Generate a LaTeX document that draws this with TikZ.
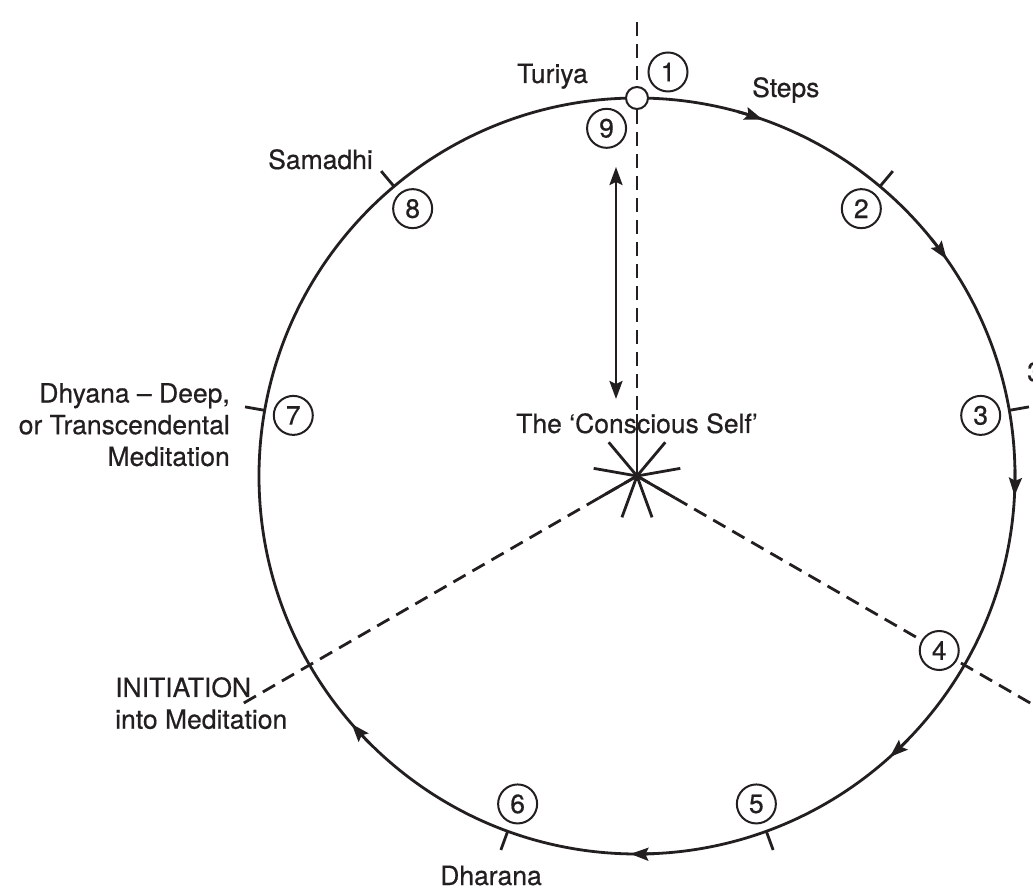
\documentclass[tikz,border=0pt]{standalone}
\usepackage{fontspec}
\setmainfont{TeX Gyre Heros}[FakeBold=0.5]
\usepackage{tikz}
\usetikzlibrary{arrows.meta,calc}
\definecolor{InkDark}{HTML}{231F20}
\tikzset{cyc/.tip={Stealth[length=18pt,width=13pt,inset=3pt]}}

\begin{document}
\begin{tikzpicture}[x=1pt,y=1pt,
          every node/.style={font=\fontsize{26.5}{31.7}\selectfont,
            text=InkDark, inner sep=0pt},
          ink/.style={draw=InkDark, line width=2.8pt},
          rayline/.style={ink, dash pattern=on 14pt off 8pt},
          numnode/.style={circle, draw=InkDark, fill=white, line width=2pt,
            minimum size=39pt},
          ar/.style={draw=InkDark, line width=2.6pt, {cyc}-{cyc}}]
        \useasboundingbox (-637,-414) rectangle (396,476);
        \coordinate (self) at (0,0);
        \coordinate (topend) at (0,461);
        \coordinate (initend) at (210:460);
        \coordinate (fourend) at (330:470);
        \coordinate (uptip) at (-21,309);
        \coordinate (downtip) at (-21,77);
        % the path of the steps
        \draw[ink] (self) circle[radius=378];
        \foreach \a in {70.6,35,-3,-48,269,221}
          \draw[ink, -{cyc}] ($(self)+(\a+4:378)$)
            arc[start angle=\a+4, end angle=\a, radius=378];
        \foreach \a in {10,50,130,170,250,290}
          \draw[ink] ($(self)+(\a:378)$) -- ++(\a:20);
        % dashed lines out of the centre
        \draw[rayline] (self) -- (topend);
        \draw[rayline] (self) -- (initend);
        \draw[rayline] (self) -- (fourend);
        \foreach \a/\l in {10/44,50/44,90/62,130/44,170/44,210/44,250/44,290/44,330/44}
          \draw[ink] (self) -- ++(\a:\l);
        \draw[ar] (uptip) -- (downtip);
        \node[circle, draw=InkDark, line width=2pt, fill=white, minimum size=22pt]
        (turiyapt) at (0,378) {};
        % numbered steps
        \node[numnode] (n1) at (31,404) {1};
        \foreach \n/\a in {2/50,3/10,4/330,5/290,6/250,7/170,8/130,9/95}
          \node[numnode] (n\n) at ($(self)+(\a:349)$) {\n};
        % labels
        \node[anchor=base east] (turiya) at (-49,393) {Turiya};
        \node[anchor=base west] (steps) at (115,379) {Steps};
        \node[anchor=base east] (samadhi) at (-264,307) {Samadhi};
        \node[anchor=north east, align=right] (dhyana) at (-407,93)
        {Dhyana -- Deep,\\or Transcendental\\Meditation};
        \node[anchor=north west, align=left] (initiation) at (-522,-201)
        {INITIATION\\into Meditation};
        \node[anchor=base] (dharana) at (-146,-409) {Dharana};
        \node[anchor=base] (selflabel) at (0,43) {The `Conscious Self'};
        \node[anchor=west] (three) at (390,104) {3};
      \end{tikzpicture}
\end{document}
